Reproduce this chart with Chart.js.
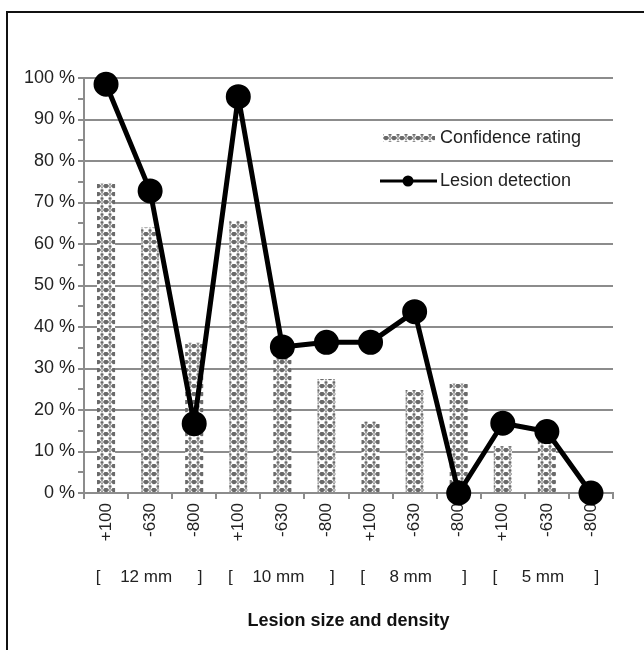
<!DOCTYPE html>
<html>
<head>
<meta charset="utf-8">
<script src="https://cdn.jsdelivr.net/npm/chart.js@4/dist/chart.umd.min.js"></script>
<style>
  html, body { margin: 0; padding: 0; background: #fff; }
  #wrap { width: 644px; height: 650px; }
</style>
</head>
<body>
<div id="wrap"><canvas id="lesionChart" width="644" height="650"></canvas></div>
<script>
// values
var categories = ['+100', '-630', '-800', '+100', '-630', '-800', '+100', '-630', '-800', '+100', '-630', '-800'];
var confidenceRating = [74.6, 64, 36.2, 65.6, 35.5, 27.5, 17.2, 24.8, 26.4, 11.3, 13.5, 0];
var lesionDetection = [98.5, 72.8, 16.7, 95.5, 35.2, 36.3, 36.3, 43.7, 0, 16.8, 14.8, 0];
var sizeGroups = ['12 mm', '10 mm', '8 mm', '5 mm'];

var FONT = "'Liberation Sans', Arial, sans-serif";
var GRID = '#8c8c8c';

function makePattern() {
    var c = document.createElement('canvas');
    c.width = 8;
    c.height = 8;
    var g = c.getContext('2d');
    g.fillStyle = '#fff';
    g.fillRect(0, 0, 8, 8);
    g.fillStyle = '#6a6a6a';
    g.beginPath(); g.arc(2, 2, 2.3, 0, Math.PI * 2); g.fill();
    g.fillRect(4.5, 5.5, 3, 2);
    g.fillRect(5.5, 4.5, 1, 4);
    g.strokeStyle = '#7a7a7a';
    g.lineWidth = 1;
    g.beginPath(); g.arc(6, 2, 1.4, 0, Math.PI * 2); g.stroke();
    return g.createPattern(c, 'repeat');
}
var barPattern = makePattern();

// white page, and the frame lines round the figure
var framePlugin = {
    id: 'frame',
    beforeDraw: function (chart) {
        var ctx = chart.ctx;
        ctx.save();
        ctx.fillStyle = '#fff';
        ctx.fillRect(0, 0, chart.width, chart.height);
        ctx.strokeStyle = '#111';
        ctx.lineWidth = 2;
        ctx.beginPath();
        ctx.moveTo(7, chart.height);
        ctx.lineTo(7, 12);
        ctx.lineTo(chart.width, 12);
        ctx.stroke();
        ctx.restore();
    }
};

// legend inside the plot, and the size groups under the tick labels
var extrasPlugin = {
    id: 'extras',
    afterDraw: function (chart) {
        var ctx = chart.ctx;
        var area = chart.chartArea;
        var x = chart.scales.x;
        ctx.save();
        ctx.font = '18px ' + FONT;
        ctx.textBaseline = 'middle';

        var lx = area.right - 230;
        var y1 = area.top + 60;
        var y2 = area.top + 103;
        ctx.fillStyle = barPattern;
        ctx.fillRect(lx, y1 - 4, 52, 8);
        ctx.strokeStyle = '#000';
        ctx.lineWidth = 3;
        ctx.beginPath();
        ctx.moveTo(lx - 3, y2);
        ctx.lineTo(lx + 54, y2);
        ctx.stroke();
        ctx.fillStyle = '#000';
        ctx.beginPath();
        ctx.arc(lx + 25, y2, 5.5, 0, Math.PI * 2);
        ctx.fill();
        ctx.fillStyle = '#222';
        ctx.textAlign = 'left';
        ctx.fillText(chart.data.datasets[1].label, lx + 57, y1);
        ctx.fillText(chart.data.datasets[0].label, lx + 57, y2);

        ctx.font = '17px ' + FONT;
        var gy = x.top + 84;
        ctx.textAlign = 'center';
        sizeGroups.forEach(function (name, i) {
            var a = x.getPixelForValue(i * 3);
            var m = x.getPixelForValue(i * 3 + 1);
            var b = x.getPixelForValue(i * 3 + 2);
            ctx.fillText('[', a - 8, gy);
            ctx.fillText(name, m - 4, gy);
            ctx.fillText(']', b + 6, gy);
        });
        ctx.restore();
    }
};

new Chart(document.getElementById('lesionChart'), {
    type: 'bar',
    data: {
        labels: categories,
        datasets: [
            {
                type: 'line',
                label: 'Lesion detection',
                data: lesionDetection,
                borderColor: '#000',
                borderWidth: 5,
                borderJoinStyle: 'round',
                pointRadius: 10,
                pointHoverRadius: 10,
                pointBackgroundColor: '#000',
                pointBorderColor: '#000',
                clip: false,
                order: 0
            },
            {
                label: 'Confidence rating',
                data: confidenceRating,
                backgroundColor: barPattern,
                categoryPercentage: 0.82,
                barPercentage: 0.5,
                order: 1
            }
        ]
    },
    options: {
        responsive: false,
        animation: false,
        layout: { padding: { top: 78, right: 31, left: 0, bottom: 0 } },
        plugins: {
            legend: { display: false },
            tooltip: { enabled: false }
        },
        scales: {
            x: {
                afterFit: function (s) { s.height = 157; },
                grid: {
                    drawOnChartArea: false,
                    offset: true,
                    color: GRID,
                    lineWidth: 2,
                    tickLength: 6
                },
                border: { color: GRID, width: 2 },
                ticks: {
                    autoSkip: false,
                    minRotation: 90,
                    maxRotation: 90,
                    padding: 4,
                    color: '#222',
                    font: { family: FONT, size: 17 }
                },
                title: {
                    display: true,
                    text: 'Lesion size and density',
                    color: '#111',
                    font: { family: FONT, size: 18, weight: 'bold' },
                    padding: { top: 4, bottom: 18 }
                }
            },
            y: {
                min: 0,
                max: 100,
                afterFit: function (s) { s.width = 84; },
                grid: {
                    color: function (c) {
                        return (c.tick && c.tick.value % 10 === 0) ? GRID : 'rgba(0,0,0,0)';
                    },
                    tickColor: GRID,
                    lineWidth: 2,
                    tickLength: 6
                },
                border: { color: GRID, width: 2 },
                ticks: {
                    stepSize: 5,
                    autoSkip: false,
                    padding: 3,
                    color: '#222',
                    font: { family: FONT, size: 18 },
                    callback: function (v) { return v % 10 === 0 ? v + ' %' : ''; }
                }
            }
        }
    },
    plugins: [framePlugin, extrasPlugin]
});
</script>
</body>
</html>
